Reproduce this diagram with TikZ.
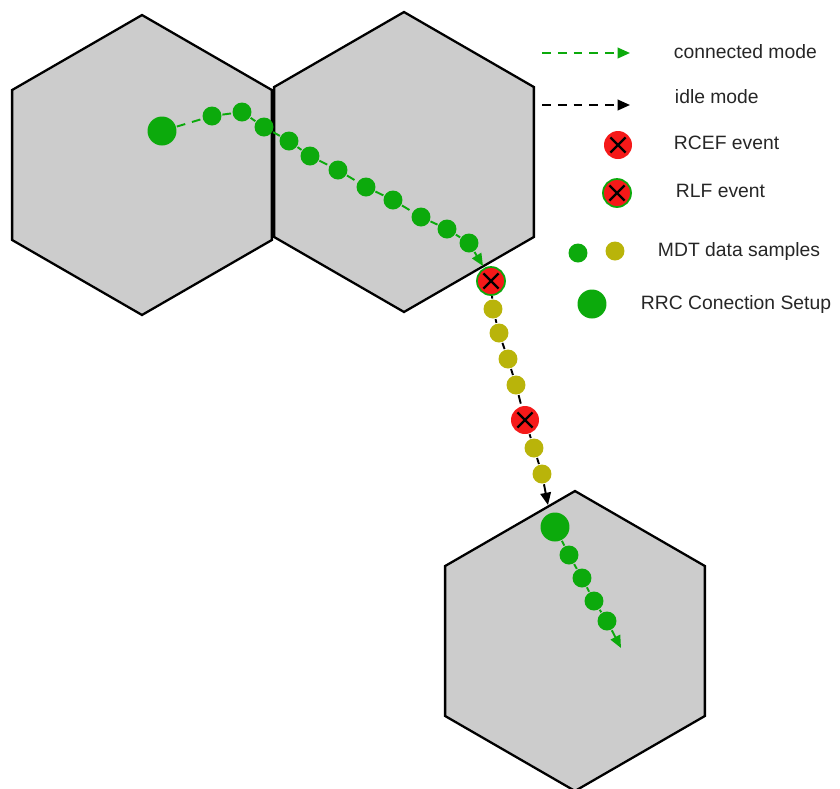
\documentclass[tikz,border=0pt]{standalone}
\usepackage{fontspec}
\setmainfont{Liberation Sans}
\usetikzlibrary{shapes.geometric,arrows.meta}
\definecolor{cellgray}{RGB}{204,204,204}
\definecolor{ueGreen}{RGB}{12,170,12}
\definecolor{ueOlive}{RGB}{185,180,10}
\definecolor{failRed}{RGB}{245,25,25}
\tikzset{every path/.style={line width=1.1pt}}
\tikzset{
  cell/.style={regular polygon,regular polygon sides=6,shape border rotate=30,
    draw,fill=cellgray,minimum size=6cm,inner sep=0pt,line width=1.3pt},
  sample/.style={circle,inner sep=0pt,minimum size=0.38cm,fill=#1},
  setup/.style={circle,inner sep=0pt,minimum size=0.58cm,fill=ueGreen},
  fail/.style={circle,inner sep=0pt,minimum size=0.56cm,fill=failRed,
    path picture={\draw[black,line width=1.3pt]
      ([shift={(-4.3pt,-4.3pt)}]path picture bounding box.center) -- ++(8.6pt,8.6pt)
      ([shift={(-4.3pt,4.3pt)}]path picture bounding box.center) -- ++(8.6pt,-8.6pt);}},
  rlf/.style={fail,draw=ueGreen,line width=1pt},
  conn/.style={ueGreen,dash pattern=on 5pt off 4pt},
  idle/.style={black,dash pattern=on 5pt off 4pt},
  lbl/.style={anchor=west,inner sep=0pt,text=black!85,font=\fontsize{11}{13}\selectfont}
}

\begin{document}
\begin{tikzpicture}[x=0.02cm,y=-0.02cm,>={Triangle[length=7pt,width=6pt]}]
    \useasboundingbox (0,0) rectangle (840,789);
    \node[cell] (cellA) at (142,165) {};
    \node[cell] (cellB) at (404,162) {};
    \node[cell] (cellC) at (575,641) {};

    \node[setup] (s1) at (162,131) {};
    \node[sample=ueGreen] (g1) at (212,116) {};
    \node[sample=ueGreen] (g2) at (242,112) {};
    \node[sample=ueGreen] (g3) at (264,127) {};
    \node[sample=ueGreen] (g4) at (289,141) {};
    \node[sample=ueGreen] (g5) at (310,156) {};
    \node[sample=ueGreen] (g6) at (338,170) {};
    \node[sample=ueGreen] (g7) at (366,187) {};
    \node[sample=ueGreen] (g8) at (393,200) {};
    \node[sample=ueGreen] (g9) at (421,217) {};
    \node[sample=ueGreen] (g10) at (447,229) {};
    \node[sample=ueGreen] (g11) at (469,243) {};
    \coordinate (t1) at (483,266);
    \path[conn] (s1) edge (g1) (g1) edge (g2) (g2) edge (g3) (g3) edge (g4)
    (g4) edge (g5) (g5) edge (g6) (g6) edge (g7) (g7) edge (g8)
    (g8) edge (g9) (g9) edge (g10) (g10) edge (g11);
    \path[conn, ->] (g11) edge (t1);

    \node[rlf] (rlf) at (491,281) {};
    \node[sample=ueOlive] (y1) at (493,309) {};
    \node[sample=ueOlive] (y2) at (499,333) {};
    \node[sample=ueOlive] (y3) at (508,359) {};
    \node[sample=ueOlive] (y4) at (516,385) {};
    \node[fail] (rcef) at (525,420) {};
    \node[sample=ueOlive] (y5) at (534,448) {};
    \node[sample=ueOlive] (y6) at (542,474) {};
    \coordinate (t2) at (548,505);
    \path[idle] (rlf) edge (y1) (y1) edge (y2) (y2) edge (y3) (y3) edge (y4)
    (y4) edge (rcef) (rcef) edge (y5) (y5) edge (y6);
    \path[idle, ->] (y6) edge (t2);

    \node[setup] (s2) at (555,527) {};
    \node[sample=ueGreen] (h1) at (569,555) {};
    \node[sample=ueGreen] (h2) at (582,578) {};
    \node[sample=ueGreen] (h3) at (594,601) {};
    \node[sample=ueGreen] (h4) at (607,621) {};
    \coordinate (t3) at (621,648);
    \path[conn] (s2) edge (h1) (h1) edge (h2) (h2) edge (h3) (h3) edge (h4);
    \path[conn, ->] (h4) edge (t3);

    \coordinate (kc1) at (542,53);
    \coordinate (kc2) at (630,53);
    \path[conn, ->] (kc1) edge (kc2);
    \node[lbl] (lconn) at (673,52) {connected mode};
    \coordinate (ki1) at (542,105);
    \coordinate (ki2) at (630,105);
    \path[idle, ->] (ki1) edge (ki2);
    \node[lbl] (lidle) at (674,97) {idle mode};
    \node[fail] (krcef) at (618,145) {};
    \node[lbl] (lrcef) at (673,143) {RCEF event};
    \node[rlf] (krlf) at (617,193) {};
    \node[lbl] (lrlf) at (675,191) {RLF event};
    \node[sample=ueGreen] (kg) at (578,253) {};
    \node[sample=ueOlive] (ky) at (615,251) {};
    \node[lbl] (lmdt) at (657,251) {MDT data samples};
    \node[setup] (ks) at (592,304) {};
    \node[lbl] (lrrc) at (640,304) {RRC Conection Setup};
  \end{tikzpicture}
\end{document}
